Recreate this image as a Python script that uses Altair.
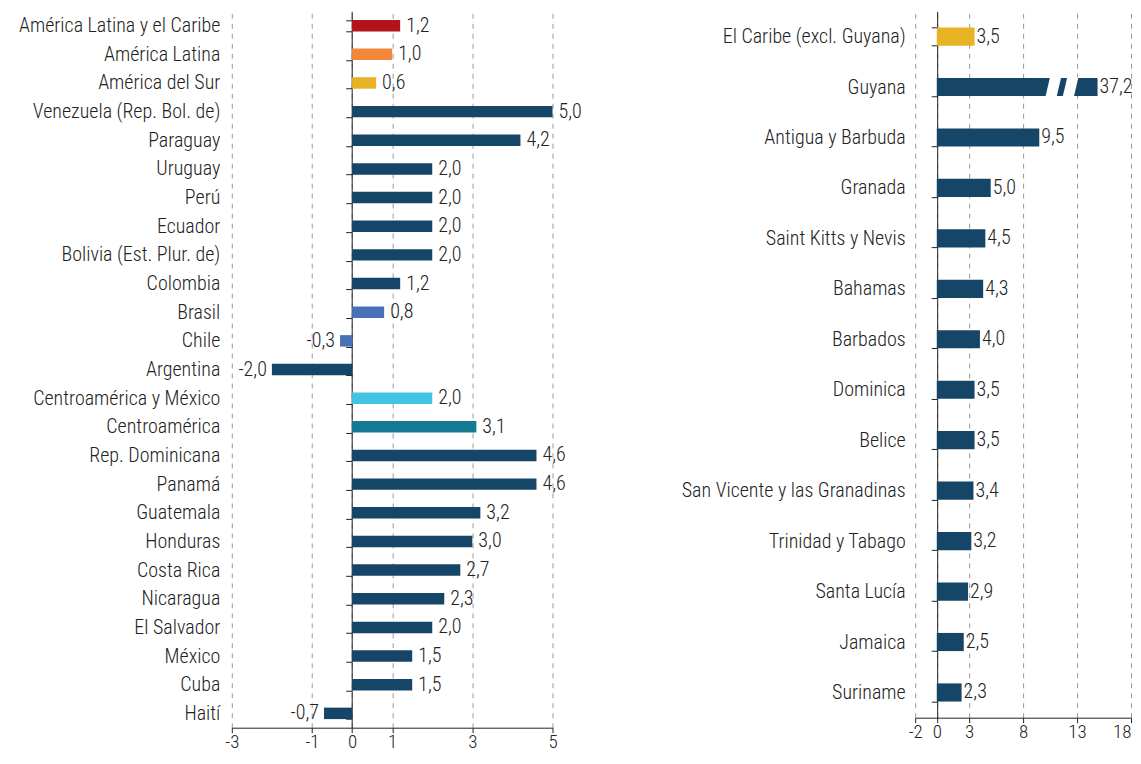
import altair as alt
import pandas as pd

FONT = "Roboto Condensed, DejaVu Sans Condensed, Roboto"
FS = 20
FW = 300

# ---------------- Left panel data ----------------
left_cats = [
    "América Latina y el Caribe", "América Latina", "América del Sur",
    "Venezuela (Rep. Bol. de)", "Paraguay", "Uruguay", "Perú", "Ecuador",
    "Bolivia (Est. Plur. de)", "Colombia", "Brasil", "Chile", "Argentina",
    "Centroamérica y México", "Centroamérica", "Rep. Dominicana", "Panamá",
    "Guatemala", "Honduras", "Costa Rica", "Nicaragua", "El Salvador",
    "México", "Cuba", "Haití",
]
left_vals = [1.2, 1.0, 0.6, 5.0, 4.2, 2.0, 2.0, 2.0, 2.0, 1.2, 0.8, -0.3, -2.0,
             2.0, 3.1, 4.6, 4.6, 3.2, 3.0, 2.7, 2.3, 2.0, 1.5, 1.5, -0.7]
left_groups = ["alc", "al", "sur", "pais", "pais", "pais", "pais", "pais",
               "pais", "pais", "cono", "cono", "pais", "cam", "ca", "pais",
               "pais", "pais", "pais", "pais", "pais", "pais", "pais", "pais",
               "pais"]
left_ticks = [-3, -1, 0, 1, 3, 5]

# ---------------- Right panel data ----------------
right_cats = [
    "El Caribe (excl. Guyana)", "Guyana", "Antigua y Barbuda", "Granada",
    "Saint Kitts y Nevis", "Bahamas", "Barbados", "Dominica", "Belice",
    "San Vicente y las Granadinas", "Trinidad y Tabago", "Santa Lucía",
    "Jamaica", "Suriname",
]
right_vals = [3.5, 37.2, 9.5, 5.0, 4.5, 4.3, 4.0, 3.5, 3.5, 3.4, 3.2, 2.9, 2.5, 2.3]
right_groups = ["sur"] + ["pais"] * 13
right_ticks = [-2, 0, 3, 8, 13, 18]
right_cap = 14.9            # truncated length of the Guyana bar
break_marks = [10.8, 12.4]  # position of the axis-break gaps on the Guyana bar

group_domain = ["alc", "al", "sur", "pais", "cono", "cam", "ca"]
group_colors = ["#b3141b", "#f4883a", "#e7b324", "#164667", "#4a6fb9", "#44c3e4", "#147a93"]

def fmt(v):
    return f"{v:.1f}".replace(".", ",")

left_df = pd.DataFrame({"cat": left_cats, "value": left_vals, "group": left_groups})
left_df["label"] = left_df["value"].map(fmt)

right_df = pd.DataFrame({"cat": right_cats, "value": right_vals, "group": right_groups})
right_df["shown"] = right_df["value"].clip(upper=right_cap)
right_df["label"] = right_df["value"].map(fmt)

breaks_df = pd.DataFrame({"cat": ["Guyana"] * len(break_marks), "x": break_marks})

color = alt.Color("group:N", scale=alt.Scale(domain=group_domain, range=group_colors), legend=None)

def x_axis(ticks, align):
    return alt.Axis(values=ticks, title=None, grid=True, gridDash=[5, 5],
                    gridColor="#9a9a9a", gridWidth=1, domainColor="#222",
                    tickColor="#222", tickSize=5, labelFontSize=19, labelFont=FONT,
                    labelFontWeight=FW, labelColor="#222", labelPadding=0,
                    labelFlush=False, labelAlign=align,
                    labelExpr="toString(datum.value)")

def y_axis(offset, pad):
    return alt.Axis(title=None, offset=offset, tickBand="extent", tickSize=6,
                    tickColor="#222", domainColor="#222", labelPadding=pad,
                    labelFontSize=FS, labelFont=FONT, labelFontWeight=FW,
                    labelColor="#222", labelLimit=400, grid=False)

# ---------------- Left chart ----------------
LW, LH = 321, 717
lx = alt.Scale(domain=[-3, 5], nice=False, zero=False)
ly_enc = alt.Y("cat:N", sort=left_cats, scale=alt.Scale(paddingInner=0.6, paddingOuter=0.3),
               axis=y_axis(-120, 126))

lbase = alt.Chart(left_df)
lbars = lbase.mark_bar().encode(
    x=alt.X("value:Q", scale=lx, axis=x_axis(left_ticks, "center")),
    x2=alt.datum(0),
    y=ly_enc,
    color=color,
)
lpos = lbase.transform_filter("datum.value >= 0").mark_text(
    align="left", dx=6, fontSize=FS, font=FONT, fontWeight=FW, color="#222"
).encode(x="value:Q", y=alt.Y("cat:N", sort=left_cats), text="label:N")
lneg = lbase.transform_filter("datum.value < 0").mark_text(
    align="right", dx=-5, fontSize=FS, font=FONT, fontWeight=FW, color="#222"
).encode(x="value:Q", y=alt.Y("cat:N", sort=left_cats), text="label:N")

left = alt.layer(lbars, lpos, lneg).properties(width=LW, height=LH)

# ---------------- Right chart ----------------
RW, RH = 216, 707
rx = alt.Scale(domain=[-2, 18], nice=False, zero=False)
ry_enc = alt.Y("cat:N", sort=right_cats, scale=alt.Scale(paddingInner=0.64, paddingOuter=0.32),
               axis=y_axis(-22, 26))

rbase = alt.Chart(right_df)
rbars = rbase.mark_bar().encode(
    x=alt.X("shown:Q", scale=rx,
            axis=x_axis(right_ticks, alt.expr("datum.value == 18 ? 'right' : 'center'"))),
    x2=alt.datum(0),
    y=ry_enc,
    color=color,
)
rbreaks = alt.Chart(breaks_df).mark_point(
    shape="M -0.3 -0.85 L 0.7 -0.85 L 0.3 0.85 L -0.7 0.85 Z",
    filled=True, color="white", opacity=1, size=500, strokeWidth=0,
).encode(x="x:Q", y=alt.Y("cat:N", sort=right_cats))
rlabels = rbase.mark_text(
    align="left", dx=2, fontSize=FS, font=FONT, fontWeight=FW, color="#222"
).encode(x="shown:Q", y=alt.Y("cat:N", sort=right_cats), text="label:N")

right = alt.layer(rbars, rbreaks, rlabels).properties(width=RW, height=RH)

chart = alt.hconcat(left, right, spacing=98).properties(
    padding={"top": -7, "left": 10, "right": 0, "bottom": 0}
).configure_view(stroke=None).configure_axis(labelFont=FONT)

chart.save("out.html", embed_options={"renderer": "svg", "actions": False})
